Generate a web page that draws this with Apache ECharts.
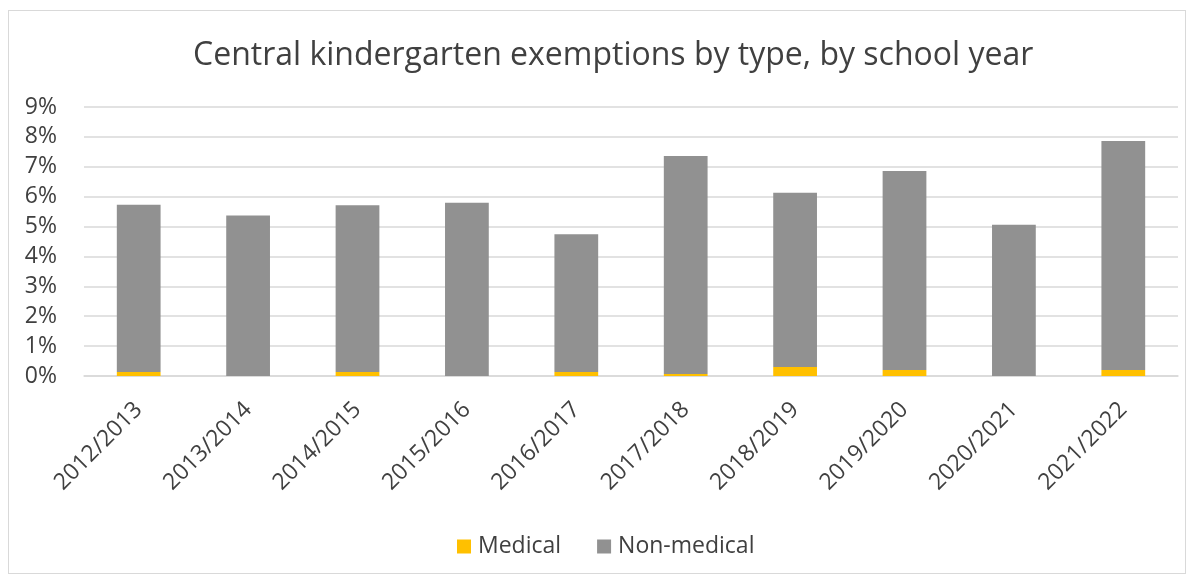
<!DOCTYPE html>
<html>
<head>
<meta charset="utf-8">
<script src="https://cdn.jsdelivr.net/npm/echarts@6/dist/echarts.min.js"></script>
<style>
html,body{margin:0;padding:0;background:#fff;}
#frame{position:absolute;left:8px;top:10px;width:1178px;height:564px;border:1px solid #d9d9d9;box-sizing:border-box;}
#chart{position:absolute;left:0;top:0;width:1194px;height:579px;}
</style>
</head>
<body>
<div id="frame"></div>
<div id="chart"></div>
<script>
const categories = ["2012/2013","2013/2014","2014/2015","2015/2016","2016/2017","2017/2018","2018/2019","2019/2020","2020/2021","2021/2022"];
const medical = [0.13, 0, 0.13, 0, 0.13, 0.07, 0.30, 0.20, 0, 0.20];
const nonMedical = [5.60, 5.37, 5.58, 5.80, 4.61, 7.29, 5.83, 6.66, 5.06, 7.66];
const seriesNames = ["Medical", "Non-medical"];
const titleText = "Central kindergarten exemptions by type, by school year";

const chart = echarts.init(document.getElementById('chart'), null, {renderer:'canvas'});
const font = '"Open Sans", "Noto Sans", sans-serif';
chart.setOption({
  animation: false,
  textStyle: {fontFamily: font},
  title: {
    text: titleText,
    left: 188,
    top: 35,
    textStyle: {fontFamily: font, fontSize: 32, fontWeight: 'normal', color: '#404040'}
  },
  legend: {
    data: seriesNames,
    bottom: 16,
    left: 452,
    itemWidth: 14,
    itemHeight: 14,
    itemGap: 36,
    icon: 'rect',
    textStyle: {fontFamily: font, fontSize: 23, color: '#404040', padding: [0,0,0,2]}
  },
  grid: {left: 84, right: 16, top: 107, bottom: 203, containLabel: false},
  xAxis: {
    type: 'category',
    data: categories,
    axisLine: {show: true, lineStyle: {color: '#d9d9d9', width: 1.5}},
    axisTick: {show: false},
    axisLabel: {rotate: 45, margin: 30, fontFamily: font, fontSize: 23, color: '#404040', interval: 0}
  },
  yAxis: {
    type: 'value',
    min: 0, max: 9, interval: 1,
    axisLine: {show: false},
    axisTick: {show: false},
    splitLine: {lineStyle: {color: '#d9d9d9', width: 1.5}},
    axisLabel: {formatter: v => v + '%', fontFamily: font, fontSize: 23, color: '#404040', margin: 27}
  },
  series: [
    {name: seriesNames[0], type: 'bar', stack: 'total', data: medical, barWidth: '40%', itemStyle: {color: '#FFC000'}},
    {name: seriesNames[1], type: 'bar', stack: 'total', data: nonMedical, barWidth: '40%', itemStyle: {color: '#919191'}}
  ]
});
</script>
</body>
</html>
